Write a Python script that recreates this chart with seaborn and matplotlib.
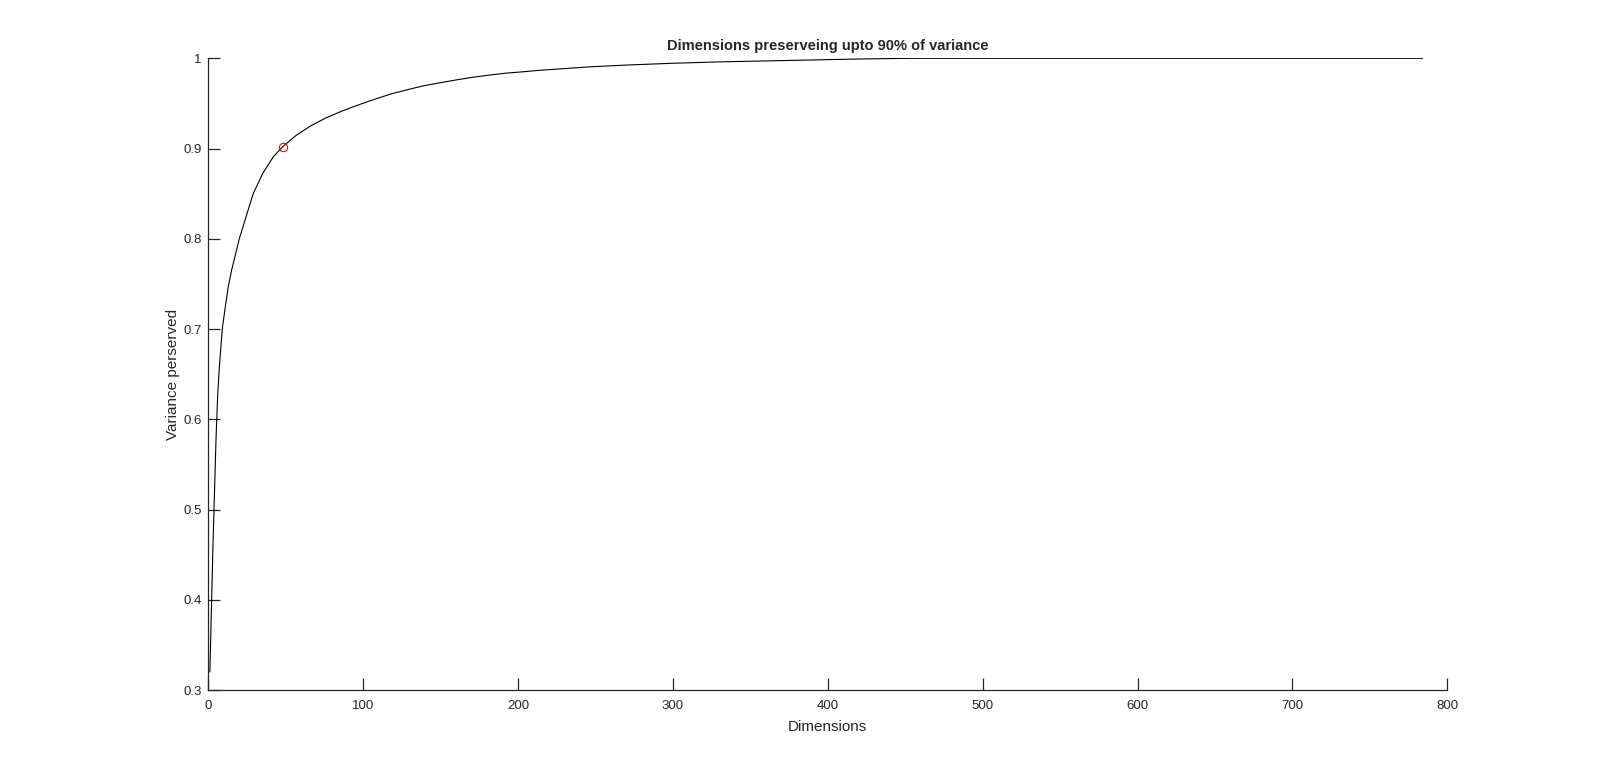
import seaborn as sns
import matplotlib
matplotlib.use("Agg")
import matplotlib.pyplot as plt

# cumulative variance
dims = [1, 2, 3, 4, 5, 6, 7, 9, 11, 13, 15, 17, 20, 25, 29, 35, 42, 48, 57,
        66, 76, 87, 98, 109, 119, 130, 139, 150, 160, 171, 182, 192, 203, 214,
        225, 246, 270, 300, 330, 369, 400, 420, 455, 500, 600, 700, 784]
variance = [0.32, 0.39, 0.46, 0.52, 0.58, 0.625, 0.655, 0.70, 0.725, 0.748,
            0.765, 0.779, 0.80, 0.828, 0.850, 0.872, 0.891, 0.902, 0.915,
            0.925, 0.934, 0.942, 0.949, 0.9555, 0.961, 0.9658, 0.9695, 0.973,
            0.976, 0.979, 0.9815, 0.9835, 0.985, 0.9867, 0.988, 0.9905,
            0.9925, 0.9945, 0.996, 0.9974, 0.9985, 0.9992, 1.0, 1.0, 1.0,
            1.0, 1.0]

# dimension where 90% is reached
best_dim = [48]
best_var = [0.902]

sns.set_style('ticks')
plt.rcParams['font.family'] = ['Liberation Sans', 'DejaVu Sans']

fig = plt.figure(figsize=(16, 7.76), dpi=100)
ax = fig.add_axes([0.1302, 0.1108, 0.7744, 0.8141])

sns.lineplot(x=dims, y=variance, color='black', linewidth=0.8, ax=ax)
ax.plot(best_dim, best_var, 'o', mfc='none', mec='red', ms=6, mew=0.8)

ax.set_xlim(0, 800)
ax.set_ylim(0.3, 1)
ax.set_xticks(range(0, 801, 100))
ax.set_yticks([0.3, 0.4, 0.5, 0.6, 0.7, 0.8, 0.9, 1])
ax.set_yticklabels(['0.3', '0.4', '0.5', '0.6', '0.7', '0.8', '0.9', '1'])

for s in ['top', 'right']:
    ax.spines[s].set_visible(False)
for s in ['left', 'bottom']:
    ax.spines[s].set_color('#262626')
    ax.spines[s].set_linewidth(0.9)

ax.tick_params(direction='in', length=8.6, width=0.9, color='#262626',
               labelcolor='#262626', labelsize=9.5, pad=5)
ax.tick_params(axis='x', pad=7)

ax.set_title("Dimensions preserveing upto 90% of variance", fontsize=10.5,
             fontweight='bold', pad=6)
ax.set_xlabel("Dimensions", fontsize=11, color='#262626', labelpad=6)
ax.set_ylabel("Variance perserved", fontsize=11, color='#262626', labelpad=2)

fig.savefig("out.png", dpi=100, facecolor='white')
